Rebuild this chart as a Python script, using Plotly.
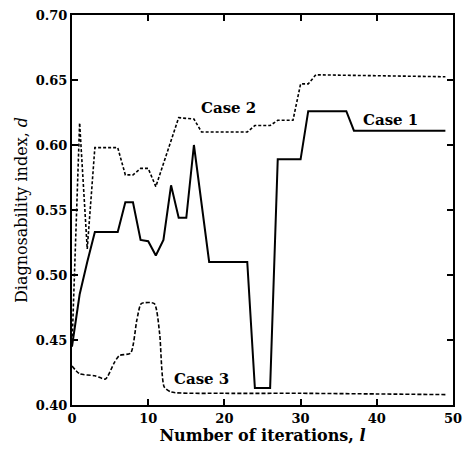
import plotly.graph_objects as go

# Case 1 (solid)
case1_x = [0, 1, 2, 3, 6, 7, 8, 9, 10, 11, 12, 13, 14, 15, 16, 18, 23, 24, 26, 27, 30, 31, 36, 37, 49]
case1_y = [0.445, 0.485, 0.51, 0.533, 0.533, 0.556, 0.556, 0.527, 0.526, 0.515, 0.527, 0.569,
           0.544, 0.544, 0.600, 0.51, 0.51, 0.413, 0.413, 0.589, 0.589, 0.626, 0.626, 0.611, 0.611]

# Case 2 (dashed)
case2_x = [0, 1, 2, 3, 6, 7, 8, 9, 10, 11, 14, 16, 17, 23, 24, 26, 27, 29, 30, 31, 32, 49]
case2_y = [0.445, 0.617, 0.52, 0.598, 0.598, 0.577, 0.577, 0.582, 0.582, 0.568, 0.621, 0.620,
           0.610, 0.610, 0.615, 0.615, 0.619, 0.619, 0.647, 0.647, 0.654, 0.6525]

# Case 3 (dashed, smooth)
case3_x = [0, 1, 3, 4.4, 5.5, 6.2, 7.7, 8.5, 9.1, 10.8, 11.5, 12.1, 13, 20, 30, 40, 49]
case3_y = [0.430, 0.424, 0.4225, 0.420, 0.432, 0.438, 0.440, 0.465, 0.478, 0.478, 0.455, 0.414,
           0.410, 0.409, 0.409, 0.4085, 0.408]

labels = ["Case 1", "Case 2", "Case 3"]
label_x = [41.75, 20.5, 17.0]
label_y = [0.619, 0.6285, 0.42]

x_ticks = [0, 10, 20, 30, 40, 50]
y_ticks = [0.40, 0.45, 0.50, 0.55, 0.60, 0.65, 0.70]

font_serif = "DejaVu Serif"

fig = go.Figure()
fig.add_trace(go.Scatter(x=case1_x, y=case1_y, mode="lines",
                         line=dict(color="black", width=2), name=labels[0]))
fig.add_trace(go.Scatter(x=case2_x, y=case2_y, mode="lines",
                         line=dict(color="black", width=1.6, dash="3px,2px"), name=labels[1]))
fig.add_trace(go.Scatter(x=case3_x, y=case3_y, mode="lines",
                         line=dict(color="black", width=1.6, dash="4px,2px", shape="spline", smoothing=0.6),
                         name=labels[2]))

for t, xx, yy in zip(labels, label_x, label_y):
    fig.add_annotation(x=xx, y=yy, text="<b>" + t + "</b>", showarrow=False,
                       font=dict(family=font_serif, size=15, color="black"))

axis_common = dict(showgrid=False, zeroline=False, showline=True, linecolor="black", linewidth=2,
                   mirror="ticks", ticks="inside", ticklen=6, tickwidth=1.5, tickcolor="black",
                   tickfont=dict(family=font_serif, size=13, color="black"))

fig.update_xaxes(range=[0, 50], tickvals=x_ticks, ticktext=["<b>%d</b>" % v for v in x_ticks],
                 title=dict(text="<b>Number of iterations, <i>l</i></b>",
                            font=dict(family=font_serif, size=16, color="black"), standoff=3),
                 **axis_common)
fig.update_yaxes(range=[0.40, 0.70], tickvals=y_ticks, ticktext=["<b>%.2f</b>" % v for v in y_ticks],
                 title=dict(text="Diagnosability index, <i>d</i>",
                            font=dict(family=font_serif, size=16, color="black"), standoff=4),
                 **axis_common)

fig.update_layout(width=470, height=455, margin=dict(l=72, r=8, t=15, b=50),
                  paper_bgcolor="white", plot_bgcolor="white", showlegend=False)

fig.write_html("out.html")
